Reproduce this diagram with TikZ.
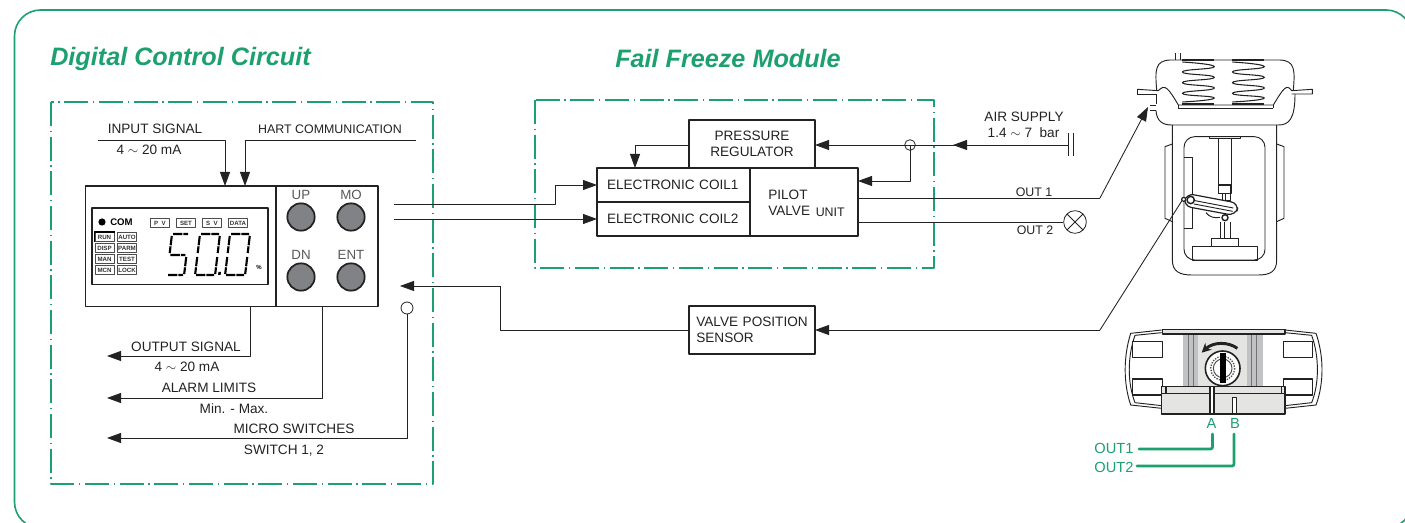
\documentclass[tikz,border=0pt]{standalone}
\usepackage{fontspec}
\setmainfont{Liberation Sans}
\usepackage{xcolor}
\usetikzlibrary{arrows.meta,positioning,calc}
\definecolor{fpgreen}{HTML}{1DA06F}
\definecolor{fpline}{HTML}{222222}
\definecolor{fpbutton}{HTML}{808285}
\definecolor{fplight}{HTML}{E4E5E3}
\definecolor{fpmid}{HTML}{BFC3C3}
\newcommand{\fpsize}[1]{\fontsize{#1}{#1}\selectfont}
\newcommand{\lcdzero}[1]{%
  \draw[shift={(#1,0)}, dash pattern=on 7pt off 0.8pt]
    (1,0) -- (19,0) (20,2) -- (20,19) (20,23) -- (20,40) (1,41) -- (19,41) (0,23) -- (0,40) (0,2) -- (0,19);}
\newcommand{\lcdfive}[1]{%
  \draw[shift={(#1,0)}, dash pattern=on 7pt off 0.8pt]
    (1,0) -- (16,0) (0,2) -- (0,19) (1,21) -- (16,21) (17,23) -- (17,40) (1,41) -- (16,41);}

\begin{document}
\begin{tikzpicture}[
  x=0.75pt, y=-0.75pt,
  line join=round,
  box/.style={draw=fpline, line width=0.85pt, fill=white, inner sep=0pt, outer sep=0pt, align=left,
              font=\fpsize{10.2}, text=fpline},
  lbl/.style={font=\fpsize{10.2}, text=fpline, inner sep=0pt},
  smalllbl/.style={font=\fpsize{9.3}, text=fpline, inner sep=0pt},
  heading/.style={font=\fpsize{18.9}\bfseries\itshape, text=fpgreen, inner sep=0pt, anchor=west},
  zone/.style={draw=fpgreen, line width=0.85pt, dash pattern=on 18pt off 3.4pt on 1.2pt off 3.4pt},
  ar/.style={-{Triangle[length=10.5pt,width=7.5pt]}, fpline, line width=0.65pt},
  wire/.style={fpline, line width=0.65pt},
  part/.style={fpline, line width=0.7pt},
  btn/.style={circle, draw=fpline, line width=1.3pt, fill=fpbutton, minimum size=20.5pt, inner sep=0pt},
  btntxt/.style={font=\fpsize{10}, text=black!65, inner sep=0pt},
  tag/.style={draw=black!70, line width=0.5pt, fill=white, minimum width=14.5pt, minimum height=6.8pt,
              inner sep=0pt, font=\fpsize{4.6}\bfseries, text=black!80},
  term/.style={circle, draw=fpline, line width=0.6pt, inner sep=0pt},
  greenwire/.style={fpgreen, line width=2.1pt, line cap=round, rounded corners=1.5pt},
  greenlbl/.style={font=\fpsize{11}, text=fpgreen, inner sep=0pt},
]
\useasboundingbox (0,0) rectangle (1405,523);
\clip (0,0) rectangle (1405,523);

% frame and zones
\draw[fpgreen, line width=1.2pt, rounded corners=19.5pt] (14.5,10) rectangle (1412,528);
\node[heading] (titleleft) at (50,59) {Digital Control Circuit};
\node[heading] (titlemid) at (615,59) {Fail Freeze Module};
\draw[zone] (51,102) rectangle (433,484);
\draw[zone] (535,100) rectangle (934,268);

% indicator
\node[box, anchor=north west, minimum width=143pt, minimum height=90.5pt] (panel) at (85.5,186) {};
\node[box, anchor=north west, minimum width=76.5pt, minimum height=90.5pt] (keys) at (276,186) {};
\draw[fpline, line width=1.4pt] (92,306.5) -- (240,306.5);
\node[box, anchor=north west, minimum width=132pt, minimum height=57.5pt] (lcd) at (92,208) {};
\node[btn] (btnup) at (301,217) {};
\node[btn] (btnmo) at (351,217) {};
\node[btn] (btndn) at (301,277) {};
\node[btn] (btnent) at (351,277) {};
\node[btntxt, above=1.8pt of btnup] (txtup) {UP};
\node[btntxt, above=1.8pt of btnmo] (txtmo) {MO};
\node[btntxt, above=1.8pt of btndn] (txtdn) {DN};
\node[btntxt, above=1.8pt of btnent] (txtent) {ENT};

% lcd face
\fill[black] (102,222) circle (3.6);
\node[font=\fpsize{7.2}\bfseries, inner sep=0pt, anchor=west] (com) at (110,222.5) {COM};
\foreach \tagname/\tagx/\tagtxt in {pv/160/P\ \ V, set/186/SET, sv/212/S\ \ V, data/238/DATA}
  \node[tag] (\tagname) at (\tagx,223) {\tagtxt};
\foreach \tagname/\tagx/\tagy/\tagtxt in {run/104.5/237/RUN, auto/127/237/AUTO, disp/104.5/248/DISP, parm/127/248/PARM,
                                          man/104.5/259/MAN, test/127/259/TEST, mcn/104.5/270/MCN, lock/127/270/LOCK}
  \node[tag] (\tagname) at (\tagx,\tagy) {\tagtxt};
\draw[black, line width=1.1pt] (run.south west) -- (run.north west) -- (run.north east);

% digits
\begin{scope}[shift={(172,234)}, xslant=0.12, line width=1.6pt, black]
  \lcdfive{0}
  \lcdzero{28}
  \lcdzero{58}
  \fill (51,38) rectangle (53.5,41);
\end{scope}
\node[font=\fpsize{4.5}\bfseries, inner sep=0pt] (percent) at (259,267.5) {\%};

% inputs
\coordinate (inputstart) at (98,140);
\coordinate (hartstart) at (416,140);
\draw[ar] (inputstart) -| (panel.north -| 225,0);
\draw[ar] (hartstart) -| (panel.north -| 245,0);
\node[lbl] (inputtxt) at (155,129) {INPUT SIGNAL};
\node[lbl] (inputrange) at (149,150) {4 $\sim$ 20 mA};
\node[smalllbl] (harttxt) at (330,129.5) {HART COMMUNICATION};

% module
\node[box, anchor=north west, minimum width=114.75pt, minimum height=25.5pt, text width=114.75pt] (coilone) at (597,168)
  {\hspace*{7.5pt}ELECTRONIC COIL1};
\node[box, below=0pt of coilone, minimum width=114.75pt, minimum height=25.5pt, text width=114.75pt] (coiltwo)
  {\hspace*{7.5pt}ELECTRONIC COIL2};
\node[box, anchor=north west, minimum width=81pt, minimum height=51pt] (pilot) at (750,168) {};
\node[lbl, anchor=west] (pilottxt) at (768,194.5) {PILOT};
\node[lbl, anchor=west] (valvetxt) at (768,210.5) {VALVE};
\node[smalllbl, anchor=west] (unittxt) at (815.5,212) {UNIT};
\node[box, anchor=south west, minimum width=94.5pt, minimum height=36pt, align=center] (regulator) at (689,168)
  {PRESSURE\\[2.2pt]REGULATOR};

% control lines to the coils
\coordinate (ctrlone) at (394,204);
\coordinate (ctrltwo) at (394,219);
\coordinate (ctrlbend) at (555,204);
\draw[ar] (ctrlone) -- (ctrlbend) |- (coilone.west);
\draw[ar] (ctrltwo) -- (ctrltwo -| coiltwo.west);

% air
\node[term, minimum size=8pt] (tee) at (910,145) {};
\coordinate (airend) at (1068,145);
\draw[wire] (airend) -- (tee.center);
\draw[ar] (airend) -- (953,145);
\draw[ar] (tee.center) -- (tee.center -| regulator.east);
\draw[wire] (1068,133.5) -- (1068,156) (1073,133.5) -- (1073,156);
\draw[ar] (tee.center) |- (pilot.east |- 0,181);
\coordinate (regturn) at (635,145);
\draw[ar] (regulator.west |- regturn) -- (regturn) -- (regturn |- coilone.north);
\node[lbl] (airtxt) at (1024,117) {AIR SUPPLY};
\node[lbl] (airrange) at (1023.5,133) {1.4 $\sim$ 7\ \ bar};

% outputs
\coordinate (outonebend) at (1100,198);
\coordinate (outonetip) at (1148,107);
\draw[wire] (pilot.east |- outonebend) -- (outonebend);
\draw[ar] (outonebend) -- (outonetip);
\node[term, minimum size=17pt] (outtwoend) at (1075,222) {};
\draw[wire] (pilot.east |- outtwoend) -- (outtwoend);
\draw[wire] ($(outtwoend)+(-8,-8)$) -- ($(outtwoend)+(8,8)$) ($(outtwoend)+(-8,8)$) -- ($(outtwoend)+(8,-8)$);
\node[smalllbl] (outonetxt) at (1034,192) {OUT 1};
\node[smalllbl] (outtwotxt) at (1035,230) {OUT 2};

% feedback
\node[box, anchor=north west, minimum width=94.5pt, minimum height=36pt, text width=94.5pt] (sensor) at (689,306)
  {\hspace*{5.5pt}VALVE POSITION\\[2.2pt]\hspace*{5.5pt}SENSOR};
\coordinate (sensorbend) at (1100,330);
\coordinate (levertip) at (1183,199);
\coordinate (feedturn) at (500,330);
\coordinate (feedtip) at (400,286);
\draw[wire] (levertip) -- (sensorbend);
\draw[ar] (sensorbend) -- (sensor.east |- sensorbend);
\draw[wire] (sensor.west |- feedturn) -- (feedturn) -- (500,286);
\draw[ar] (500,286) -- (feedtip);

% signals out of the indicator
\coordinate (outputtip) at (107,356);
\coordinate (alarmtip) at (107,398);
\coordinate (microtip) at (107,438);
\node[term, minimum size=9pt] (microterm) at (407,308) {};
\draw[ar] (panel.south -| 250,0) |- (outputtip);
\draw[ar] (keys.south -| 322,0) |- (alarmtip);
\draw[ar] (microterm) |- (microtip);
\node[lbl] (outputtxt) at (186,347) {OUTPUT SIGNAL};
\node[lbl] (outputrange) at (187,367) {4 $\sim$ 20 mA};
\node[lbl] (alarmtxt) at (209,388) {ALARM LIMITS};
\node[lbl] (alarmrange) at (234,409) {Min. - Max.};
\node[lbl] (microtxt) at (294,429) {MICRO SWITCHES};
\node[lbl] (switchtxt) at (284,451) {SWITCH 1, 2};

% actuator
\begin{scope}[shift={(1120,40)}, x=0.25pt, y=-0.25pt, part]
  \draw (165,40) -- (165,60) (182,40) -- (182,60);
  \draw (110,150) .. controls (105,90) and (105,62) .. (150,60) -- (480,60) .. controls (525,62) and (525,90) .. (520,150);
  \draw (52,148) -- (115,152) .. controls (135,130) and (145,145) .. (175,195) -- (460,195)
        .. controls (490,145) and (500,130) .. (515,152) -- (577,148) -- (577,162) -- (515,162);
  \draw (52,148) -- (52,162) -- (108,162);
  \draw (175,205) -- (460,205) (175,195) -- (175,205) (460,195) -- (460,205);
  \draw (108,162) -- (108,192) (90,195) -- (108,195) (90,212) -- (108,212);
  \draw (108,212) .. controls (110,245) and (130,255) .. (155,255) -- (475,255) .. controls (505,255) and (525,240) .. (525,162);
  % springs
  \foreach \cx in {235,385} {
    \draw[line width=0.8pt] plot[smooth, tension=1] coordinates {
      (\cx-48,66) (\cx+48,80) (\cx-48,96) (\cx+48,112) (\cx-48,128) (\cx+48,144) (\cx-48,160) (\cx+48,174) (\cx-48,186)};
    \fill[fpline] (\cx-48,58) rectangle (\cx+48,63);
    \fill[fpline] (\cx-48,188) rectangle (\cx+48,195);
  }
  % yoke
  \draw (157,255) -- (157,660) .. controls (157,695) and (180,705) .. (215,705) -- (415,705)
        .. controls (450,705) and (470,695) .. (470,660) -- (470,255);
  \draw[rounded corners=8pt] (192,660) -- (192,290) -- (435,290) -- (435,660) -- cycle;
  \draw (157,312) -- (135,320) -- (135,535) -- (157,545);
  \draw (470,312) -- (492,320) -- (492,535) -- (470,545);
  \draw (192,352) -- (218,352) -- (218,565) -- (192,565);
  % stem
  \draw (268,295) -- (268,288) -- (362,288) -- (362,295) -- cycle;
  \draw (295,295) -- (295,435) (333,295) -- (333,435);
  \draw[line width=0.9pt] (295,435) rectangle (333,460);
  \draw (308,460) rectangle (330,480) (315,460) -- (315,480);
  \draw (302,545) -- (302,595) (332,545) -- (332,595) (312,545) -- (312,595);
  \draw (275,595) rectangle (355,618);
  \draw (218,618) rectangle (412,660);
  % lever
  \draw[line width=0.9pt, fill=white, rounded corners=6pt] (198,460) -- (357,490) -- (347,527) -- (190,498) -- cycle;
  \draw (225,482) -- (340,504) (222,492) -- (338,514);
  \draw[line width=1.1pt, fill=white] (212,480) circle (11);
  \draw[line width=0.9pt, fill=white] (191,478) circle (6);
  \draw[line width=1.1pt] (315,533) circle (9);
  \draw (258,518) .. controls (268,532) and (285,535) .. (300,532);
\end{scope}

% rotary view
\begin{scope}[shift={(1090,310)}, x=0.25pt, y=-0.25pt, part]
  \draw (215,60) -- (122,70) .. controls (100,140) and (100,220) .. (122,285) -- (215,295);
  \draw (215,68) -- (135,76) .. controls (112,140) and (112,220) .. (135,278) -- (215,287);
  \draw (585,60) -- (678,70) .. controls (702,140) and (702,220) .. (678,285) -- (585,295);
  \draw (585,68) -- (665,76) .. controls (688,140) and (688,220) .. (665,278) -- (585,287);
  \draw[fill=white, line width=0.8pt] (128,95) rectangle (218,142) (128,207) rectangle (218,255);
  \draw[fill=white, line width=0.8pt] (580,95) rectangle (668,142) (580,207) rectangle (668,255);
  \fill[fpmid] (280,72) rectangle (518,228);
  \fill[fplight] (325,72) rectangle (470,228);
  \foreach \bx in {295,310,485,500} \draw[black!55] (\bx,72) -- (\bx,228);
  \draw[fill=fplight, line width=0.8pt] (218,58) rectangle (585,72);
  \draw[fill=white, line width=1.2pt] (398,175) circle (52);
  \draw[black!70, densely dotted, line width=1pt] (398,175) circle (36);
  \draw[black!70] (398,175) circle (28);
  \fill[black] (389,130) rectangle (407,218);
  \draw[line width=2.2pt, -{Stealth[length=7pt,width=7pt]}] (442,115) .. controls (415,95) and (370,95) .. (335,128);
  \draw[fill=fplight, line width=0.8pt] (215,230) rectangle (585,312);
  \draw[line width=0.8pt] (215,250) -- (585,250) (228,230) -- (228,250) (575,230) -- (575,250);
  \draw[line width=0.8pt, fill=white] (360,230) rectangle (372,312);
  \draw[line width=0.8pt, fill=white] (428,262) rectangle (440,312);
\end{scope}

% port labels
\node[greenlbl] (porta) at (1211.5,423) {A};
\node[greenlbl] (portb) at (1235,423) {B};
\node[greenlbl] (outa) at (1114,448) {OUT1};
\node[greenlbl] (outb) at (1114,467) {OUT2};
\coordinate (portaend) at (1212.5,434);
\coordinate (portbend) at (1234,434);
\draw[greenwire] (1139,449) -| (portaend);
\draw[greenwire] (1137,466) -| (portbend);
\end{tikzpicture}
\end{document}
